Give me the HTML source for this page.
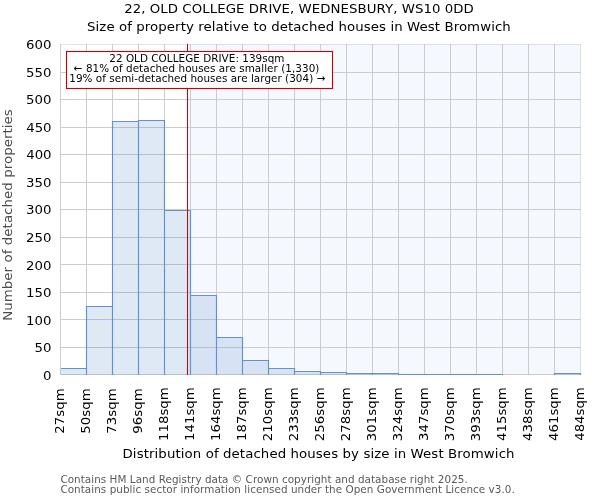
<!DOCTYPE html>
<html lang="en">
<head>
<meta charset="utf-8">
<title>22, OLD COLLEGE DRIVE, WEDNESBURY, WS10 0DD</title>
<style>
html,body{margin:0;padding:0;background:#fff}
body{width:600px;height:500px;overflow:hidden}
svg{display:block}
text{font-family:"DejaVu Sans","Liberation Sans",sans-serif;white-space:pre}
</style>
</head>
<body>
<svg width="600" height="500" viewBox="0 0 600 500">
<rect width="600" height="500" fill="#fff"/>
<rect x="188" y="44" width="393" height="331" fill="#f5f8fe"/>
<path d="M60.5 44V375M86.5 44V375M112.5 44V375M138.5 44V375M164.5 44V375M190.5 44V375M216.5 44V375M242.5 44V375M268.5 44V375M294.5 44V375M320.5 44V375M346.5 44V375M372.5 44V375M398.5 44V375M424.5 44V375M450.5 44V375M476.5 44V375M502.5 44V375M528.5 44V375M554.5 44V375M60 72.5H581M60 99.5H581M60 127.5H581M60 154.5H581M60 182.5H581M60 209.5H581M60 237.5H581M60 264.5H581M60 292.5H581M60 319.5H581M60 347.5H581M60 374.5H581" stroke="#cccccc" stroke-width="1" fill="none"/>
<path d="M60 44.5H581M580.5 44V375" stroke="#cccccc" stroke-opacity="0.55" stroke-width="1" fill="none"/>
<path d="M60.5 368.5H86.5V375H60.5ZM86.5 306.5H112.5V375H86.5ZM112.5 121.5H138.5V375H112.5ZM138.5 120.5H164.5V375H138.5ZM164.5 210.5H190.5V375H164.5ZM190.5 295.5H216.5V375H190.5ZM216.5 337.5H242.5V375H216.5ZM242.5 360.5H268.5V375H242.5ZM268.5 368.5H294.5V375H268.5ZM294.5 371.5H320.5V375H294.5ZM320.5 372.5H346.5V375H320.5ZM346.5 373.5H372.5V375H346.5ZM372.5 373.5H398.5V375H372.5ZM398.5 374.5H424.5V375H398.5ZM424.5 374.5H450.5V375H424.5ZM450.5 374.5H476.5V375H450.5ZM476.5 374.5H502.5V375H476.5ZM554.5 373.5H580.5V375H554.5Z" fill="rgba(99,145,207,0.205)"/>
<path d="M61.0 368.5H86.5V375M86.5 375V306.5H112.5V375M112.5 375V121.5H138.5V375M138.5 375V120.5H164.5V375M164.5 375V210.5H190.5V375M190.5 375V295.5H216.5V375M216.5 375V337.5H242.5V375M242.5 375V360.5H268.5V375M268.5 375V368.5H294.5V375M294.5 375V371.5H320.5V375M320.5 375V372.5H346.5V375M346.5 375V373.5H372.5V375M372.5 375V373.5H398.5V375M398.5 375V374.5H424.5V375M424.5 375V374.5H450.5V375M450.5 375V374.5H476.5V375M476.5 375V374.5H502.5V375M554.5 375V373.5H580.5V375" stroke="#6391cf" stroke-width="1.15" fill="none" stroke-linejoin="miter"/>
<path d="M187.5 44V375" stroke="#cc0000" stroke-width="1" fill="none"/>
<rect x="66.5" y="51.5" width="266" height="37" fill="#fff" stroke="#cc0000" stroke-width="1.1"/>
<text transform="translate(196.85,62) scale(1,1.04)" font-size="10.4167" text-anchor="middle" fill="#000" textLength="175.3" lengthAdjust="spacing">22 OLD COLLEGE DRIVE: 139sqm</text>
<text transform="translate(196.6,72) scale(1,1.04)" font-size="10.4167" text-anchor="middle" fill="#000" textLength="245.6" lengthAdjust="spacing">← 81% of detached houses are smaller (1,330)</text>
<text transform="translate(197.3,82) scale(1,1.04)" font-size="10.4167" text-anchor="middle" fill="#000" textLength="256.0" lengthAdjust="spacing">19% of semi-detached houses are larger (304) →</text>
<text transform="translate(299,13) scale(1,0.94)" font-size="13.3333" text-anchor="middle" fill="#000" textLength="349.75" lengthAdjust="spacing">22, OLD COLLEGE DRIVE, WEDNESBURY, WS10 0DD</text>
<text transform="translate(298.9,31) scale(1,0.97)" font-size="13.3333" text-anchor="middle" fill="#000" textLength="423.75" lengthAdjust="spacing">Size of property relative to detached houses in West Bromwich</text>
<text transform="translate(51.6,49.0) scale(1,0.94)" font-size="13.3333" text-anchor="end" fill="#000" textLength="25.5" lengthAdjust="spacing">600</text>
<text transform="translate(51.6,76.58) scale(1,0.94)" font-size="13.3333" text-anchor="end" fill="#000" textLength="25.5" lengthAdjust="spacing">550</text>
<text transform="translate(51.6,104.16) scale(1,0.94)" font-size="13.3333" text-anchor="end" fill="#000" textLength="25.5" lengthAdjust="spacing">500</text>
<text transform="translate(51.6,131.74) scale(1,0.94)" font-size="13.3333" text-anchor="end" fill="#000" textLength="25.38" lengthAdjust="spacing">450</text>
<text transform="translate(51.6,159.32) scale(1,0.94)" font-size="13.3333" text-anchor="end" fill="#000" textLength="25.38" lengthAdjust="spacing">400</text>
<text transform="translate(51.6,186.9) scale(1,0.94)" font-size="13.3333" text-anchor="end" fill="#000" textLength="25.5" lengthAdjust="spacing">350</text>
<text transform="translate(51.6,214.48) scale(1,0.94)" font-size="13.3333" text-anchor="end" fill="#000" textLength="25.5" lengthAdjust="spacing">300</text>
<text transform="translate(51.6,242.06) scale(1,0.94)" font-size="13.3333" text-anchor="end" fill="#000" textLength="25.62" lengthAdjust="spacing">250</text>
<text transform="translate(51.6,269.64) scale(1,0.94)" font-size="13.3333" text-anchor="end" fill="#000" textLength="25.62" lengthAdjust="spacing">200</text>
<text transform="translate(51.6,297.22) scale(1,0.94)" font-size="13.3333" text-anchor="end" fill="#000" textLength="25.5" lengthAdjust="spacing">150</text>
<text transform="translate(51.6,324.8) scale(1,0.94)" font-size="13.3333" text-anchor="end" fill="#000" textLength="25.5" lengthAdjust="spacing">100</text>
<text transform="translate(51.6,352.38) scale(1,0.94)" font-size="13.3333" text-anchor="end" fill="#000" textLength="17.0" lengthAdjust="spacing">50</text>
<text transform="translate(51.6,379.96) scale(1,0.94)" font-size="13.3333" text-anchor="end" fill="#000" textLength="8.5" lengthAdjust="spacing">0</text>
<text transform="translate(64.2,388.2) rotate(-90) scale(1,0.94)" font-size="13.3333" text-anchor="end" fill="#000" textLength="45.62" lengthAdjust="spacing">27sqm</text>
<text transform="translate(90.2,388.2) rotate(-90) scale(1,0.94)" font-size="13.3333" text-anchor="end" fill="#000" textLength="45.5" lengthAdjust="spacing">50sqm</text>
<text transform="translate(116.2,388.2) rotate(-90) scale(1,0.94)" font-size="13.3333" text-anchor="end" fill="#000" textLength="45.5" lengthAdjust="spacing">73sqm</text>
<text transform="translate(142.2,388.2) rotate(-90) scale(1,0.94)" font-size="13.3333" text-anchor="end" fill="#000" textLength="45.62" lengthAdjust="spacing">96sqm</text>
<text transform="translate(168.2,387.2) rotate(-90) scale(1,0.94)" font-size="13.3333" text-anchor="end" fill="#000" textLength="53.88" lengthAdjust="spacing">118sqm</text>
<text transform="translate(194.2,387.2) rotate(-90) scale(1,0.94)" font-size="13.3333" text-anchor="end" fill="#000" textLength="53.88" lengthAdjust="spacing">141sqm</text>
<text transform="translate(220.2,387.2) rotate(-90) scale(1,0.94)" font-size="13.3333" text-anchor="end" fill="#000" textLength="53.88" lengthAdjust="spacing">164sqm</text>
<text transform="translate(246.2,387.2) rotate(-90) scale(1,0.94)" font-size="13.3333" text-anchor="end" fill="#000" textLength="53.88" lengthAdjust="spacing">187sqm</text>
<text transform="translate(272.2,387.2) rotate(-90) scale(1,0.94)" font-size="13.3333" text-anchor="end" fill="#000" textLength="54.12" lengthAdjust="spacing">210sqm</text>
<text transform="translate(298.2,387.2) rotate(-90) scale(1,0.94)" font-size="13.3333" text-anchor="end" fill="#000" textLength="54.12" lengthAdjust="spacing">233sqm</text>
<text transform="translate(324.2,387.2) rotate(-90) scale(1,0.94)" font-size="13.3333" text-anchor="end" fill="#000" textLength="54.12" lengthAdjust="spacing">256sqm</text>
<text transform="translate(350.2,387.2) rotate(-90) scale(1,0.94)" font-size="13.3333" text-anchor="end" fill="#000" textLength="54.0" lengthAdjust="spacing">278sqm</text>
<text transform="translate(376.2,387.2) rotate(-90) scale(1,0.94)" font-size="13.3333" text-anchor="end" fill="#000" textLength="54.0" lengthAdjust="spacing">301sqm</text>
<text transform="translate(402.2,387.2) rotate(-90) scale(1,0.94)" font-size="13.3333" text-anchor="end" fill="#000" textLength="54.0" lengthAdjust="spacing">324sqm</text>
<text transform="translate(428.2,387.2) rotate(-90) scale(1,0.94)" font-size="13.3333" text-anchor="end" fill="#000" textLength="53.88" lengthAdjust="spacing">347sqm</text>
<text transform="translate(454.2,387.2) rotate(-90) scale(1,0.94)" font-size="13.3333" text-anchor="end" fill="#000" textLength="54.0" lengthAdjust="spacing">370sqm</text>
<text transform="translate(480.2,387.2) rotate(-90) scale(1,0.94)" font-size="13.3333" text-anchor="end" fill="#000" textLength="54.12" lengthAdjust="spacing">393sqm</text>
<text transform="translate(506.2,387.2) rotate(-90) scale(1,0.94)" font-size="13.3333" text-anchor="end" fill="#000" textLength="53.88" lengthAdjust="spacing">415sqm</text>
<text transform="translate(532.2,387.2) rotate(-90) scale(1,0.94)" font-size="13.3333" text-anchor="end" fill="#000" textLength="53.75" lengthAdjust="spacing">438sqm</text>
<text transform="translate(558.2,387.2) rotate(-90) scale(1,0.94)" font-size="13.3333" text-anchor="end" fill="#000" textLength="53.88" lengthAdjust="spacing">461sqm</text>
<text transform="translate(584.2,387.2) rotate(-90) scale(1,0.94)" font-size="13.3333" text-anchor="end" fill="#000" textLength="53.62" lengthAdjust="spacing">484sqm</text>
<text transform="translate(318.5,458) scale(1,0.97)" font-size="13.3333" text-anchor="middle" fill="#000" textLength="392.0" lengthAdjust="spacing">Distribution of detached houses by size in West Bromwich</text>
<text transform="translate(12,215) rotate(-90) scale(1,0.98)" font-size="13.3333" text-anchor="middle" fill="#4d4d4d" textLength="211.62" lengthAdjust="spacing">Number of detached properties</text>
<text transform="translate(60.4,483) scale(1,1.04)" font-size="10.4167" text-anchor="start" fill="#595959" textLength="407.38" lengthAdjust="spacing">Contains HM Land Registry data © Crown copyright and database right 2025.</text>
<text transform="translate(60.4,493) scale(1,1.04)" font-size="10.4167" text-anchor="start" fill="#595959" textLength="454.38" lengthAdjust="spacing">Contains public sector information licensed under the Open Government Licence v3.0.</text>
</svg>
</body>
</html>
